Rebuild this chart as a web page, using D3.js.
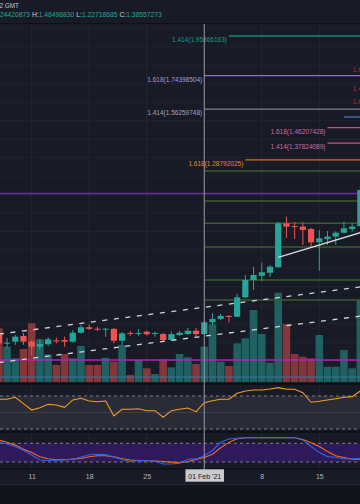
<!DOCTYPE html>
<html><head><meta charset="utf-8">
<script src="https://cdn.jsdelivr.net/npm/d3@7/dist/d3.min.js"></script>
<style>html,body{margin:0;padding:0;background:#181b26;}svg{display:block;font-family:"Liberation Sans",Arial,sans-serif;}</style>
</head><body><svg id="c" width="360" height="504"></svg>
<script>
// ---------- data ----------
const dates = ["2021-01-07","2021-01-08","2021-01-09","2021-01-10","2021-01-11","2021-01-12","2021-01-13","2021-01-14","2021-01-15","2021-01-16","2021-01-17","2021-01-18","2021-01-19","2021-01-20","2021-01-21","2021-01-22","2021-01-23","2021-01-24","2021-01-25","2021-01-26","2021-01-27","2021-01-28","2021-01-29","2021-01-30","2021-01-31","2021-02-01","2021-02-02","2021-02-03","2021-02-04","2021-02-05","2021-02-06","2021-02-07","2021-02-08","2021-02-09","2021-02-10","2021-02-11","2021-02-12","2021-02-13","2021-02-14","2021-02-15","2021-02-16","2021-02-17","2021-02-18","2021-02-19","2021-02-20"];
const open  = [0.339,0.293,0.303,0.334,0.303,0.276,0.289,0.310,0.312,0.303,0.351,0.381,0.373,0.370,0.372,0.308,0.350,0.347,0.357,0.347,0.344,0.312,0.339,0.344,0.362,0.344,0.408,0.426,0.442,0.438,0.543,0.637,0.660,0.676,0.706,0.944,0.929,0.926,0.913,0.841,0.858,0.872,0.893,0.913,0.929];
const high  = [0.366,0.323,0.339,0.350,0.312,0.317,0.328,0.324,0.330,0.366,0.393,0.397,0.384,0.377,0.377,0.355,0.361,0.370,0.363,0.357,0.350,0.357,0.361,0.377,0.377,0.415,0.457,0.453,0.447,0.561,0.664,0.709,0.731,0.718,0.951,0.980,0.951,0.951,0.919,0.908,0.902,0.900,0.953,0.946,1.146];
const low   = [0.269,0.269,0.285,0.285,0.231,0.258,0.280,0.294,0.276,0.298,0.347,0.366,0.361,0.330,0.294,0.285,0.335,0.335,0.336,0.330,0.307,0.307,0.334,0.339,0.330,0.339,0.393,0.420,0.408,0.437,0.539,0.583,0.632,0.655,0.702,0.865,0.859,0.827,0.817,0.687,0.827,0.827,0.889,0.899,0.924];
const close = [0.294,0.297,0.330,0.303,0.276,0.290,0.316,0.307,0.303,0.351,0.381,0.372,0.370,0.373,0.308,0.348,0.346,0.350,0.343,0.350,0.312,0.344,0.351,0.362,0.344,0.408,0.426,0.442,0.438,0.543,0.637,0.664,0.679,0.709,0.944,0.926,0.924,0.908,0.841,0.863,0.872,0.893,0.917,0.926,1.124];
const volume = [1611,1059,711,990,1761,1281,831,510,840,711,1080,510,510,729,609,1110,210,660,411,240,681,441,840,741,540,1059,1731,609,480,1161,1311,2160,1440,579,2679,1740,840,759,711,1410,459,459,960,411,2460];
const rsi = [66.0,66.0,68.4,60.7,53.0,55.8,59.9,59.1,56.3,65.2,67.2,63.9,63.1,63.9,45.8,53.9,53.9,54.6,52.2,52.2,44.2,52.2,53.9,55.5,51.0,61.9,64.3,66.0,66.0,73.3,76.1,77.2,77.2,78.5,80.1,78.1,78.1,74.0,62.4,63.6,65.2,66.7,68.4,69.2,76.1];
const stochK = [85.1,77.7,68.8,57.5,42.5,26.4,24.8,25.8,26.4,29.0,36.0,43.1,45.0,43.7,36.0,28.0,21.0,25.8,24.8,22.6,13.6,13.6,15.8,28.7,29.9,39.9,56.9,83.2,93.8,96.0,97.6,98.0,98.0,98.0,98.0,98.0,98.0,90.6,69.7,50.5,37.3,35.1,29.6,30.3,31.9];
const stochD = [90.6,83.2,74.2,61.1,50.2,37.0,30.3,27.1,27.4,29.3,31.2,36.7,40.2,40.2,36.4,30.6,26.4,24.5,24.2,23.2,21.6,19.7,17.8,20.6,28.0,34.4,44.7,65.6,82.9,94.8,98.0,98.0,98.0,98.0,98.0,98.0,98.0,91.9,81.6,69.7,54.0,40.2,34.4,29.0,28.7];

const tickDates  = ["2021-01-11","2021-01-18","2021-01-25","2021-02-01","2021-02-08","2021-02-15"];
const tickLabels = ["11","18","25","01 Feb '21","8","15"];
const crosshairDate = "2021-02-01";
const gridPrices = [0.1,0.2,0.3,0.4,0.5,0.6,0.7,0.8,0.9,1.0,1.1,1.2,1.3,1.4,1.5,1.6,1.7,1.8,1.9,2.0];

const fibRatio = ["1.414","1.618","1.414","1.618","1.414","1.618","1.618","1.414","1.618"];
const fibPrice = [1.95866163,1.74398504,1.56259748,1.46207428,1.37824089,1.28792025,1.79780412,1.69491337,1.62170866];
const fibStart = ["2021-02-04","2021-02-01","2021-02-01","2021-02-16","2021-02-16","2021-02-06","2021-02-26","2021-02-26","2021-02-26"];

const levelPrice = [1.2274,1.1055,1.0649,0.9441,0.8161,0.6369,0.5286,0.2035,0.1114,1.5199];
const levelStart = ["2021-02-01","2020-12-01","2021-02-01","2021-02-01","2021-02-01","2021-02-01","2021-02-01","2020-12-01","2020-12-01","2021-02-18"];

const channelDates = ["2021-01-07","2021-02-20"];
const channelUpper = [0.3436,0.5995];
const channelLower = [0.190,0.441];
const trendDates = ["2021-02-10","2021-02-20"];
const trendPrices = [0.7599,0.8937];

const headerDate = "Fri 19 Feb '21 00:00:02 GMT";
const ohlcLabels = ["O:","H:","L:","C:"];
const ohlcValues = ["1.24420873","1.48498830","1.22718685","1.38557273"];

// ---------- styles ----------
const BG="#181b26", UP="#26a69a", DN="#ef5350";
const fibLineColor  = ["#17897a","#8a6ecf","#857f98","#c84f8a","#c84f8a","#d5740e","#b71c1c","#b71c1c","#b71c1c"];
const fibTextColor  = ["#1f9a8a","#a99bd8","#a7a1bb","#d06a9e","#d06a9e","#e08a22","#c0242a","#c0242a","#c0242a"];
const levelColor = ["#3a5f28","#6b27b3","#3a5f28","#3a5f28","#3a5f28","#3a5f28","#3a5f28","#b31fc0","#3a74ad","#4a7fc0"];
const levelWidth = [1.5,1.5,1.5,1.5,1.5,1.5,1.5,1.5,1.2,1.2];

// ---------- scales ----------
const parse = d3.utcParse("%Y-%m-%d");
const x = d3.scaleUtc().domain([parse("2021-01-11"), parse("2021-02-15")]).range([31.7, 319.3]);
const y = d3.scaleLinear().domain([0.2, 1.9]).range([360.65, 46.83]);
const yVol = d3.scaleLinear().domain([0, 3000]).range([382, 282]);
const yRsi = d3.scaleLinear().domain([30, 70]).range([429, 396]);
const ySt = d3.scaleLinear().domain([20, 80]).range([462, 443.3]);

const svg = d3.select("#c");
const defs = svg.append("defs");
function clip(id, yy, h){ defs.append("clipPath").attr("id",id).append("rect").attr("x",0).attr("y",yy).attr("width",360).attr("height",h); }
clip("cMain",24,359); clip("cRsi",385,46); clip("cSt",433,35);

svg.append("rect").attr("width",360).attr("height",504).attr("fill",BG);
svg.append("rect").attr("y",484).attr("width",360).attr("height",20).attr("fill","#12141b");

// vertical grid
svg.append("g").selectAll("line").data(tickDates).join("line")
  .attr("x1",d=>x(parse(d))).attr("x2",d=>x(parse(d))).attr("y1",24).attr("y2",468)
  .attr("stroke","#232633").attr("stroke-width",1);

// main pane
const main = svg.append("g").attr("clip-path","url(#cMain)");
main.append("g").selectAll("line").data(gridPrices).join("line")
  .attr("x1",0).attr("x2",360).attr("y1",d=>y(d)).attr("y2",d=>y(d))
  .attr("stroke","#20232f").attr("stroke-width",1);

const idx = d3.range(dates.length);
// volume
main.append("g").selectAll("rect").data(idx).join("rect")
  .attr("x",i=>x(parse(dates[i]))-3.8).attr("width",7.6)
  .attr("y",i=>yVol(volume[i])).attr("height",i=>yVol(0)-yVol(volume[i]))
  .attr("fill",i=>close[i]>=open[i]?UP:DN).attr("fill-opacity",0.5);

// horizontal levels
main.append("g").selectAll("line").data(levelPrice).join("line")
  .attr("x1",(d,i)=>x(parse(levelStart[i]))).attr("x2",360)
  .attr("y1",d=>y(d)).attr("y2",d=>y(d))
  .attr("stroke",(d,i)=>levelColor[i]).attr("stroke-width",(d,i)=>levelWidth[i]);

// fib lines + labels
const fg = main.append("g");
fg.selectAll("line").data(fibPrice).join("line")
  .attr("x1",(d,i)=>x(parse(fibStart[i]))).attr("x2",420)
  .attr("y1",d=>y(d)).attr("y2",d=>y(d))
  .attr("stroke",(d,i)=>fibLineColor[i]).attr("stroke-width",1.3);
fg.selectAll("text").data(fibPrice).join("text")
  .attr("x",(d,i)=>x(parse(fibStart[i]))-2).attr("y",d=>y(d)+4.4)
  .attr("text-anchor","end").attr("dominant-baseline","middle")
  .attr("font-size",6.5).attr("fill",(d,i)=>fibTextColor[i])
  .text((d,i)=>fibRatio[i]+"("+d.toFixed(8)+")");

// candles
const cg = main.append("g");
cg.selectAll("line").data(idx).join("line")
  .attr("x1",i=>x(parse(dates[i]))).attr("x2",i=>x(parse(dates[i])))
  .attr("y1",i=>y(high[i])).attr("y2",i=>y(low[i]))
  .attr("stroke",i=>close[i]>=open[i]?UP:DN).attr("stroke-width",1);
cg.selectAll("rect").data(idx).join("rect")
  .attr("x",i=>x(parse(dates[i]))-3.1).attr("width",6.2)
  .attr("y",i=>y(Math.max(open[i],close[i])))
  .attr("height",i=>Math.max(1,Math.abs(y(open[i])-y(close[i]))))
  .attr("fill",i=>close[i]>=open[i]?UP:DN);

// trend lines
const tl = d3.line().x(d=>x(parse(d[0]))).y(d=>y(d[1]));
[channelUpper, channelLower].forEach(p=>{
  main.append("path").attr("d",tl(channelDates.map((d,i)=>[d,p[i]])))
    .attr("fill","none").attr("stroke","#d4d6dc").attr("stroke-width",1.3).attr("stroke-dasharray","5,6.6");
});
main.append("path").attr("d",tl(trendDates.map((d,i)=>[d,trendPrices[i]])))
  .attr("fill","none").attr("stroke","#d8dade").attr("stroke-width",1.3);

// RSI pane
const rp = svg.append("g").attr("clip-path","url(#cRsi)");
rp.append("rect").attr("x",0).attr("width",360).attr("y",yRsi(70)).attr("height",yRsi(30)-yRsi(70)).attr("fill","#292c37");
[70,30].forEach(v=>rp.append("line").attr("x1",0).attr("x2",360).attr("y1",yRsi(v)).attr("y2",yRsi(v))
  .attr("stroke","#7a7d88").attr("stroke-width",1).attr("stroke-dasharray","3,3"));
rp.append("line").attr("x1",0).attr("x2",360).attr("y1",yRsi(50)).attr("y2",yRsi(50)).attr("stroke","#3c3f4b").attr("stroke-width",1);
rp.append("path").attr("d",d3.line().x((d,i)=>x(parse(dates[i]))).y(d=>yRsi(d))(rsi))
  .attr("fill","none").attr("stroke","#f29c1f").attr("stroke-width",1.1);

// Stoch pane
const sp = svg.append("g").attr("clip-path","url(#cSt)");
sp.append("rect").attr("x",0).attr("width",360).attr("y",ySt(80)).attr("height",ySt(20)-ySt(80)).attr("fill","#2e1a5a");
[80,20].forEach(v=>sp.append("line").attr("x1",0).attr("x2",360).attr("y1",ySt(v)).attr("y2",ySt(v))
  .attr("stroke","#7a7d88").attr("stroke-width",1).attr("stroke-dasharray","3,3"));
const sl = d3.line().x((d,i)=>x(parse(dates[i]))).y(d=>ySt(d));
sp.append("path").attr("d",sl(stochD)).attr("fill","none").attr("stroke","#f26a1b").attr("stroke-width",1.1);
sp.append("path").attr("d",sl(stochK)).attr("fill","none").attr("stroke","#2a63f0").attr("stroke-width",1.1);

// separators
[[23,1],[383,2],[431,2],[468,1.5]].forEach(s=>svg.append("rect").attr("x",0).attr("y",s[0]).attr("width",360).attr("height",s[1]).attr("fill","#0e1016"));
svg.append("rect").attr("x",0).attr("y",484).attr("width",360).attr("height",1).attr("fill","#262935");

// crosshair
svg.append("line").attr("x1",x(parse(crosshairDate))).attr("x2",x(parse(crosshairDate)))
  .attr("y1",24).attr("y2",470).attr("stroke","#9598a1").attr("stroke-width",1);

// x axis
const ax = svg.append("g").attr("transform","translate(0,470.5)")
  .call(d3.axisBottom(x).tickValues(tickDates.map(parse)).tickFormat((d,i)=>tickLabels[i]).tickSize(0).tickPadding(3.5));
ax.select(".domain").remove();
ax.selectAll("text").attr("font-size",7).attr("fill","#b2b5be").attr("font-family","Liberation Sans, Arial, sans-serif");
const ch = ax.selectAll(".tick").filter(d=>+d===+parse(crosshairDate));
ch.insert("rect","text").attr("x",-19.3).attr("y",-1.2).attr("width",38.5).attr("height",12.4).attr("fill","#c9cbd0");
ch.select("text").attr("fill","#131722");

// header
svg.append("text").attr("x",19).attr("y",6.2).attr("text-anchor","end").attr("dominant-baseline","middle")
  .attr("font-size",6.4).attr("fill","#c3c6ce").text(headerDate);
const ht = svg.append("text").attr("y",15.2).attr("dominant-baseline","middle").attr("font-size",10);
const pre = ht.append("tspan").attr("fill","#d1d4dc").text("O:");
const pre2 = ht.append("tspan").attr("fill",UP).text("1.");
ohlcLabels.forEach((l,i)=>{
  if(i>0) ht.append("tspan").attr("fill","#d1d4dc").text(" "+l);
  ht.append("tspan").attr("fill",UP).text(i===0?ohlcValues[i].slice(2):ohlcValues[i]);
});
// fit: visible part ("24420873 ... C:1.38557273") spans 0..162
const full = ht.node().getComputedTextLength();
const prefixW = pre.node().getComputedTextLength() + pre2.node().getComputedTextLength();
const fs = 10 * 162 / (full - prefixW);
ht.attr("font-size", fs).attr("x", -prefixW * fs / 10);
</script></body></html>
